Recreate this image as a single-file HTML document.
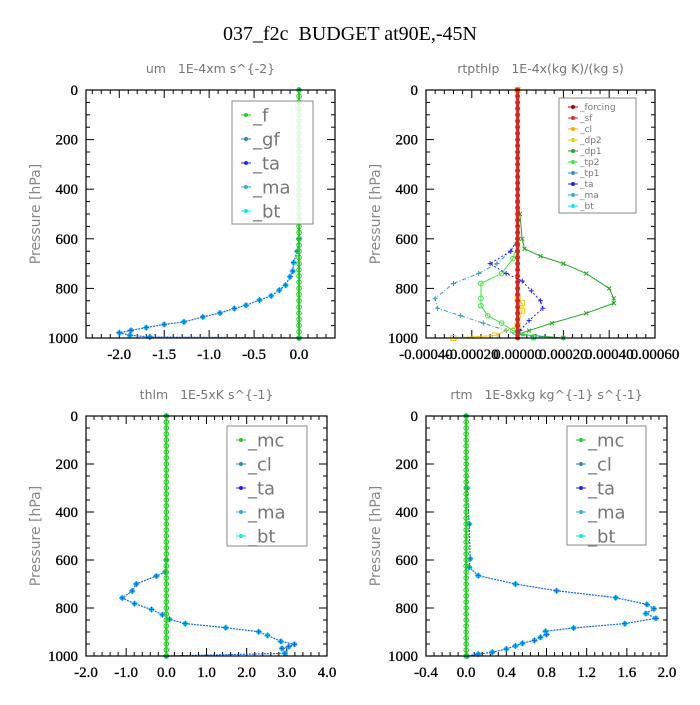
<!DOCTYPE html>
<html><head><meta charset="utf-8"><style>
html,body{margin:0;padding:0;background:#fff;}
svg text{font-family:"Liberation Serif",serif;white-space:pre;}
.pt{font-family:"DejaVu Sans","Liberation Sans",sans-serif;fill:#777;font-size:12.5px;}
.tk{font-family:"Liberation Serif",serif;font-size:15px;fill:#000;stroke:#000;stroke-width:0.3px;}
.yl{font-family:"DejaVu Sans","Liberation Sans",sans-serif;fill:#888;font-size:14px;}
.lg{font-family:"DejaVu Sans","Liberation Sans",sans-serif;fill:#777;}
</style></head><body>
<svg id="chart" width="700" height="700" viewBox="0 0 700 700" xmlns="http://www.w3.org/2000/svg" xml:space="preserve">
<rect width="700" height="700" fill="#fff"/>
<text x="350" y="40" text-anchor="middle" font-size="20">037_f2c  BUDGET at90E,-45N</text>
</svg>
<script>
// ---------- data ----------
const levels = [0,25,50,75,100,125,150,175,200,225,250,275,300,325,350,375,400,425,450,475,500,525,550,575,600,625,650,675,700,725,750,775,800,825,850,875,900,925,950,975,1000];
const zeroSeries = levels.map(()=>0);

const umP = [0,600,650,696,730,753,787,807,830,847,868,881,899,915,935,945,958,969,979,989,996,1000];
const umV = [0,0,-0.02,-0.06,-0.07,-0.1,-0.15,-0.22,-0.31,-0.44,-0.59,-0.72,-0.88,-1.07,-1.28,-1.5,-1.7,-1.87,-2.0,-1.88,-1.66,0];

const rtpP_dp1 = [0,450,500,600,640,670,700,740,800,840,860,900,940,970,985,1000];
const rtpV_dp1 = [0,0,0.00001,0.00002,0.00003,0.0001,0.0002,0.0003,0.0004,0.00042,0.00042,0.0003,0.00015,0.00005,0,0.0002];
const rtpP_tp2 = [0,620,680,740,780,840,870,910,940,970,995,1000];
const rtpV_tp2 = [0,0,-0.00002,-0.00007,-0.00016,-0.00016,-0.00016,-0.00013,-0.00007,-0.00002,0.00007,0.00007];
const rtpP_tp1 = [0,600,650,700,740,780,840,880,910,940,970,990,1000];
const rtpV_tp1 = [0,0,-0.00003,-0.00009,-0.00017,-0.00028,-0.00036,-0.00035,-0.00025,-0.00015,-0.00005,0,0.0002];
const rtpP_ta = [0,600,650,700,740,770,810,850,880,930,970,1000];
const rtpV_ta = [0,0,-0.00003,-0.00012,-0.00005,0.00002,0.00006,0.0001,0.00011,0.00005,0.00001,0];
const rtpP_dp2 = [0,840,860,890,950,990,1000];
const rtpV_dp2 = [0,0,0.00002,0.00002,0,-0.0001,-0.00028];

const thP = [0,600,650,667,700,729,758,782,806,828,847,865,882,899,914,939,951,961,968,989,1000];
const thV = [0,0,-0.03,-0.25,-0.75,-0.85,-1.1,-0.79,-0.37,-0.1,0.08,0.47,1.48,2.3,2.52,2.85,3.19,3.05,2.88,2.95,0];

const rtP = [0,300,450,595,630,665,700,728,757,785,803,823,843,865,883,897,910,922,935,947,958,971,984,992,1000];
const rtV = [0,0.01,0.03,0.04,0.03,0.12,0.49,0.9,1.49,1.8,1.87,1.79,1.89,1.58,1.07,0.79,0.8,0.74,0.68,0.56,0.49,0.4,0.26,0.12,0.01];

const yTicks = [0,200,400,600,800,1000];
const x1Ticks = [-2.0,-1.5,-1.0,-0.5,0.0];
const x1Labels = ["-2.0","-1.5","-1.0","-0.5","0.0"];
const x2Ticks = [-0.0004,-0.0002,0,0.0002,0.0004,0.0006];
const x2Labels = ["-0.00040","-0.00020","0.00000","0.00020","0.00040","0.00060"];
const x3Ticks = [-2,-1,0,1,2,3,4];
const x3Labels = ["-2.0","-1.0","0.0","1.0","2.0","3.0","4.0"];
const x4Ticks = [-0.4,0,0.4,0.8,1.2,1.6,2.0];
const x4Labels = ["-0.4","0.0","0.4","0.8","1.2","1.6","2.0"];

// ---------- drawing ----------
const NS="http://www.w3.org/2000/svg";
const svg=document.getElementById('chart');
function mk(tag,attrs,parent){const e=document.createElementNS(NS,tag);for(const k in attrs)e.setAttribute(k,attrs[k]);(parent||svg).appendChild(e);return e;}

function panel(o){
  const g=mk('g',{});
  
  
  const sx=v=>o.x0+(v-o.xmin)/(o.xmax-o.xmin)*(o.x1-o.x0);
  const sy=p=>o.y0+p/1000*(o.y1-o.y0);
  const t=mk('text',{x:(o.x0+o.x1)/2,y:o.y0-17,'text-anchor':'middle',class:'pt'},g);
  
  
  t.textContent=o.title;
  for(let p=0;p<=1000;p+=50){
    const major=p%200===0, L=major?8:4;
    mk('line',{x1:o.x0,x2:o.x0+L,y1:sy(p),y2:sy(p),stroke:'#000','stroke-width':1},g);
    mk('line',{x1:o.x1,x2:o.x1-L,y1:sy(p),y2:sy(p),stroke:'#000','stroke-width':1},g);
  }
  yTicks.forEach(p=>{const e=mk('text',{x:o.x0-8,y:sy(p)+5,'text-anchor':'end',class:'tk'},g);
    
    
    e.textContent=p;});
  const step=(o.xt[1]-o.xt[0])/5;
  for(let v=o.xt[0]-10*step;v<=o.xmax+1e-12;v+=step){
    if(v<o.xmin-1e-12)continue;
    const isMaj=o.xt.some(m=>Math.abs(m-v)<step*0.01);const L=isMaj?8:4;
    mk('line',{x1:sx(v),x2:sx(v),y1:o.y1,y2:o.y1-L,stroke:'#000'},g);
    mk('line',{x1:sx(v),x2:sx(v),y1:o.y0,y2:o.y0+L,stroke:'#000'},g);
  }
  o.xt.forEach((v,i)=>{const e=mk('text',{x:sx(v),y:o.y1+21,'text-anchor':'middle',class:'tk'},g);
    
    
    e.textContent=o.xl[i];});
  const yl=mk('text',{x:0,y:0,transform:`translate(${o.x0-46},${(o.y0+o.y1)/2}) rotate(-90)`,'text-anchor':'middle',class:'yl'},g);
  
  
  yl.textContent='Pressure [hPa]';
  o.series.forEach(s=>{
    const pts=s.p.map((p,i)=>[sx(s.v[i]),sy(p)]);
    const pl=mk('polyline',{points:pts.map(q=>q.join(',')).join(' '),fill:'none',stroke:s.c,'stroke-width':s.w||1,'stroke-dasharray':s.d||'none'},g);
    
    
    const mc=s.mc||s.c;
    s.p.forEach((p,i)=>{
      const x=sx(s.v[i]),y=sy(p);
      if(s.m==='o') mk('circle',{cx:x,cy:y,r:2.3,fill:'none',stroke:mc},g);
      else if(s.m==='dot') mk('circle',{cx:x,cy:y,r:2.5,fill:mc},g);
      else if(s.m==='star'){mk('circle',{cx:x,cy:y,r:2.6,fill:mc},g);mk('path',{d:`M${x-3},${y}L${x+3},${y}M${x},${y-3}L${x},${y+3}`,stroke:'#1155dd','stroke-width':0.8},g);}
      else if(s.m==='x'){mk('path',{d:`M${x-2},${y-2}L${x+2},${y+2}M${x-2},${y+2}L${x+2},${y-2}`,stroke:mc},g);}
      else if(s.m==='sq') mk('rect',{x:x-2.5,y:y-2.5,width:5,height:5,fill:'none',stroke:mc},g);
      else mk('path',{d:`M${x-2.5},${y}L${x+2.5},${y}M${x},${y-2.5}L${x},${y+2.5}`,stroke:mc},g);
    });
  });
  mk('rect',{x:o.x0,y:o.y0,width:o.x1-o.x0,height:o.y1-o.y0,fill:'none',stroke:'#000','stroke-width':1.2},g);
  const L=o.leg;
  const lb=mk('rect',{x:L.x,y:L.y,width:L.w,height:L.h,fill:'#fff','fill-opacity':0.85,stroke:'#888'},g);
  
  
  L.items.forEach((it,i)=>{
    const y=L.y+L.pad+i*L.dy;
    mk('line',{x1:L.x+L.mx-5,x2:L.x+L.mx+5,y1:y,y2:y,stroke:it[1]},g);
    mk('circle',{cx:L.x+L.mx,cy:y,r:2,fill:it[1]},g);
    const e=mk('text',{x:L.x+L.mx+7,y:y+L.fs*0.35,class:'lg','font-size':L.fs},g);
    
    
    e.textContent=it[0];
  });
}

const G='#22cc22';
panel({name:'um-panel',title:'um   1E-4xm s^{-2}',x0:86,x1:335,y0:90,y1:338,xmin:-2.37,xmax:0.4,xt:x1Ticks,xl:x1Labels,
  series:[
    {n:'bt',p:umP,v:umV,c:'#1166ee',mc:'#00ccff',m:'star',d:'2,1',w:1.2},
    {n:'f',p:levels,v:zeroSeries,c:G,m:'o',w:2}],
  leg:{x:232,y:101,w:81,h:123,mx:14,pad:14,dy:24,fs:18,items:[['_f',G],['_gf','#3388aa'],['_ta','#2222ee'],['_ma','#33aadd'],['_bt','#00eeee']]}});

panel({name:'rtpthlp-panel',title:'rtpthlp   1E-4x(kg K)/(kg s)',x0:426,x1:655,y0:90,y1:338,xmin:-0.0004,xmax:0.0006,xt:x2Ticks,xl:x2Labels,
  series:[
    {n:'dp1',p:rtpP_dp1,v:rtpV_dp1,c:'#22aa22',m:'x'},
    {n:'tp2',p:rtpP_tp2,v:rtpV_tp2,c:'#33ee33',m:'o'},
    {n:'tp1',p:rtpP_tp1,v:rtpV_tp1,c:'#3399bb',m:'+',d:'4,2,1,2'},
    {n:'ta',p:rtpP_ta,v:rtpV_ta,c:'#2222ee',m:'+',d:'2,2'},
    {n:'dp2',p:rtpP_dp2,v:rtpV_dp2,c:'#eecc00',m:'sq'},
    {n:'forcing',p:levels,v:zeroSeries,c:'#dd2222',m:'dot',w:3}],
  leg:{x:559,y:98,w:77,h:115,mx:14,pad:9,dy:11,fs:9,items:[['_forcing','#aa0000'],['_sf','#ee2222'],['_cl','#ffaa00'],['_dp2','#eecc00'],['_dp1','#22aa22'],['_tp2','#33ee33'],['_tp1','#3399bb'],['_ta','#2222ee'],['_ma','#33aadd'],['_bt','#00eeee']]}});

panel({name:'thlm-panel',title:'thlm   1E-5xK s^{-1}',x0:86,x1:327,y0:416,y1:656,xmin:-2,xmax:4,xt:x3Ticks,xl:x3Labels,
  series:[
    {n:'bt',p:thP,v:thV,c:'#1166ee',mc:'#00ccff',m:'star',d:'2,1',w:1.2},
    {n:'mc',p:levels,v:zeroSeries,c:G,m:'o',w:2}],
  leg:{x:227,y:426,w:80,h:120,mx:14,pad:14,dy:24,fs:18,items:[['_mc',G],['_cl','#3388aa'],['_ta','#2222ee'],['_ma','#33aadd'],['_bt','#00eeee']]}});

panel({name:'rtm-panel',title:'rtm   1E-8xkg kg^{-1} s^{-1}',x0:426,x1:667,y0:416,y1:656,xmin:-0.4,xmax:2.0,xt:x4Ticks,xl:x4Labels,
  series:[
    {n:'bt',p:rtP,v:rtV,c:'#1166ee',mc:'#00ccff',m:'star',d:'2,1',w:1.2},
    {n:'mc',p:levels,v:zeroSeries,c:G,m:'o',w:2}],
  leg:{x:567,y:426,w:79,h:119,mx:14,pad:14,dy:24,fs:18,items:[['_mc',G],['_cl','#3388aa'],['_ta','#2222ee'],['_ma','#33aadd'],['_bt','#00eeee']]}});
</script>
</body></html>
